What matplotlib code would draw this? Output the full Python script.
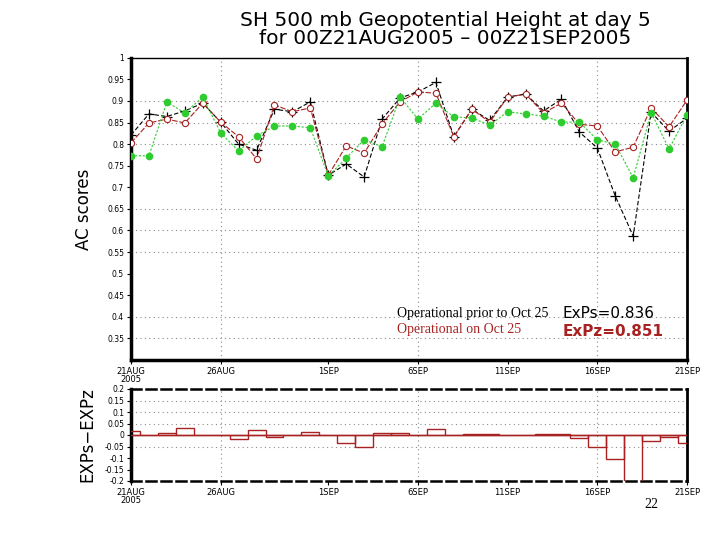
import matplotlib
matplotlib.use("Agg")
import matplotlib.pyplot as plt
import numpy as np

# ---------------- data ----------------
days = list(range(32))  # 21AUG2005 .. 21SEP2005
exps = [0.821, 0.870, 0.864, 0.877, 0.895, 0.851, 0.800, 0.786, 0.881, 0.875,
        0.898, 0.728, 0.754, 0.724, 0.858, 0.907, 0.921, 0.943, 0.817, 0.881,
        0.855, 0.909, 0.916, 0.877, 0.904, 0.828, 0.791, 0.680, 0.587, 0.874,
        0.830, 0.860]
expz = [0.803, 0.849, 0.858, 0.849, 0.895, 0.851, 0.817, 0.766, 0.891, 0.875,
        0.884, 0.728, 0.796, 0.779, 0.847, 0.898, 0.921, 0.918, 0.817, 0.881,
        0.851, 0.909, 0.916, 0.872, 0.895, 0.846, 0.842, 0.782, 0.793, 0.884,
        0.840, 0.902]
green = [0.773, 0.773, 0.898, 0.872, 0.909, 0.826, 0.784, 0.819, 0.842, 0.842,
         0.838, 0.726, 0.768, 0.810, 0.794, 0.909, 0.858, 0.895, 0.863, 0.861,
         0.844, 0.875, 0.870, 0.865, 0.851, 0.851, 0.810, 0.800, 0.722, 0.873,
         0.789, 0.868]
diff = [0.017, 0.0, 0.009, 0.030, 0.0, 0.0, -0.017, 0.020, -0.009, 0.0,
        0.013, 0.0, -0.035, -0.053, 0.010, 0.009, 0.0, 0.025, 0.0, 0.003,
        0.003, 0.0, 0.0, 0.004, 0.005, -0.015, -0.050, -0.103, -0.210, -0.024,
        -0.010, -0.036]

xtick_days = [0, 5, 11, 16, 21, 26, 31]
xtick_labels = ["21AUG\n2005", "26AUG", "1SEP", "6SEP", "11SEP", "16SEP", "21SEP"]
xgrid_days = [5, 16, 26]
main_yticks = [0.35, 0.4, 0.45, 0.5, 0.55, 0.6, 0.65, 0.7, 0.75, 0.8, 0.85, 0.9, 0.95, 1.0]
main_ylabels = ["0.35", "0.4", "0.45", "0.5", "0.55", "0.6", "0.65", "0.7", "0.75",
                "0.8", "0.85", "0.9", "0.95", "1"]
main_ygrid = [0.35, 0.4, 0.55, 0.6, 0.65, 0.8, 0.85, 0.9]
diff_yticks = [-0.2, -0.15, -0.1, -0.05, 0, 0.05, 0.1, 0.15, 0.2]
diff_ylabels = ["-0.2", "-0.15", "-0.1", "-0.05", "0", "0.05", "0.1", "0.15", "0.2"]
diff_ygrid = [-0.05, 0.05, 0.1, 0.15]

title1 = "SH 500 mb Geopotential Height at day 5"
title2 = "for 00Z21AUG2005 \u2013 00Z21SEP2005"
legend_black = "Operational prior to Oct 25"
legend_red = "Operational on Oct 25"
score_black = "ExPs=0.836"
score_red = "ExPz=0.851"

RED = "#a82222"
GREEN = "#2ecc2e"
GRID = "#8c8c8c"

fig = plt.figure(figsize=(7.2, 5.4), dpi=100)
fig.patch.set_facecolor("white")

# ---------------- main panel ----------------
ax = fig.add_axes([131/720, 1-360/540, (687-131)/720, (360-57.8)/540])
ax.set_xlim(0, 31)
ax.set_ylim(0.3, 1.0)
for g in main_ygrid:
    ax.axhline(g, color=GRID, lw=0.8, ls=(0, (1, 3)), zorder=0)
for g in xgrid_days:
    ax.axvline(g, color=GRID, lw=0.8, ls=(0, (1, 3)), zorder=0)

ax.plot(days, exps, color="black", lw=0.8, ls=(0, (4, 2)), marker="+",
        markersize=7, markeredgewidth=0.9, zorder=3)
ax.plot(days, expz, color=RED, lw=0.8, ls=(0, (5, 1.5)), marker="o",
        markersize=4.5, markerfacecolor="white", markeredgecolor=RED,
        markeredgewidth=0.8, zorder=4)
ax.plot(days, green, color=GREEN, lw=0.8, ls=(0, (2, 1.5)), marker="o",
        markersize=4.5, markerfacecolor=GREEN, markeredgecolor=GREEN, zorder=5)

ax.set_yticks(main_yticks)
ax.set_yticklabels(main_ylabels, fontsize=5.5)
ax.set_xticks(xtick_days)
ax.set_xticklabels(xtick_labels, fontsize=6, linespacing=0.9)
ax.tick_params(axis="both", length=3, width=0.8, pad=2)
ax.spines["left"].set_linewidth(2.5)
ax.spines["bottom"].set_linewidth(2.5)
ax.spines["right"].set_linewidth(2.0)
ax.spines["top"].set_linewidth(1.0)
ax.set_ylabel("AC scores", fontsize=12, labelpad=10)

fig.text(397/720, 1-313/540, legend_black, fontsize=10, family="Liberation Serif",
         color="black", va="center", ha="left")
fig.text(397/720, 1-330/540, legend_red, fontsize=10, family="Liberation Serif",
         color=RED, va="center", ha="left")
fig.text(563/720, 1-313/540, score_black, fontsize=11, color="black",
         va="center", ha="left")
fig.text(563/720, 1-331/540, score_red, fontsize=11, color=RED,
         va="center", ha="left", fontweight="bold")

# ---------------- titles ----------------
fig.text(445/720, 1-20/540, title1, fontsize=14.5, ha="center", va="center")
fig.text(445/720, 1-38/540, title2, fontsize=14.5, ha="center", va="center")

# ---------------- difference panel ----------------
bx = fig.add_axes([131/720, 1-481/540, (687-131)/720, (481-389)/540])
bx.set_xlim(0, 31)
bx.set_ylim(-0.2, 0.2)
for g in diff_ygrid:
    bx.axhline(g, color=GRID, lw=0.8, ls=(0, (1, 3)), zorder=0)
for g in xgrid_days:
    bx.axvline(g, color=GRID, lw=0.8, ls=(0, (1, 3)), zorder=0)
bx.axhline(0, color=RED, lw=1.0, zorder=2)
bx.bar(days, diff, width=1.0, fill=False, edgecolor=RED, linewidth=1.0, zorder=3)
bx.set_yticks(diff_yticks)
bx.set_yticklabels(diff_ylabels, fontsize=5.5)
bx.set_xticks(xtick_days)
bx.set_xticklabels(xtick_labels, fontsize=6, linespacing=0.9)
bx.tick_params(axis="both", length=3, width=0.8, pad=2)
bx.spines["left"].set_linewidth(2.5)
bx.spines["right"].set_linewidth(2.0)
bx.spines["top"].set_linewidth(1.8)
bx.spines["bottom"].set_linewidth(1.8)
bx.spines["top"].set_linestyle((0, (4, 2)))
bx.spines["bottom"].set_linestyle((0, (4, 2)))
bx.set_ylabel("EXPs\u2212EXPz", fontsize=12, labelpad=6)

fig.text(651/720, 1-505/540, "22", fontsize=10, family="Liberation Serif",
         ha="center", va="center")

fig.savefig("out.png", dpi=100, facecolor="white")
